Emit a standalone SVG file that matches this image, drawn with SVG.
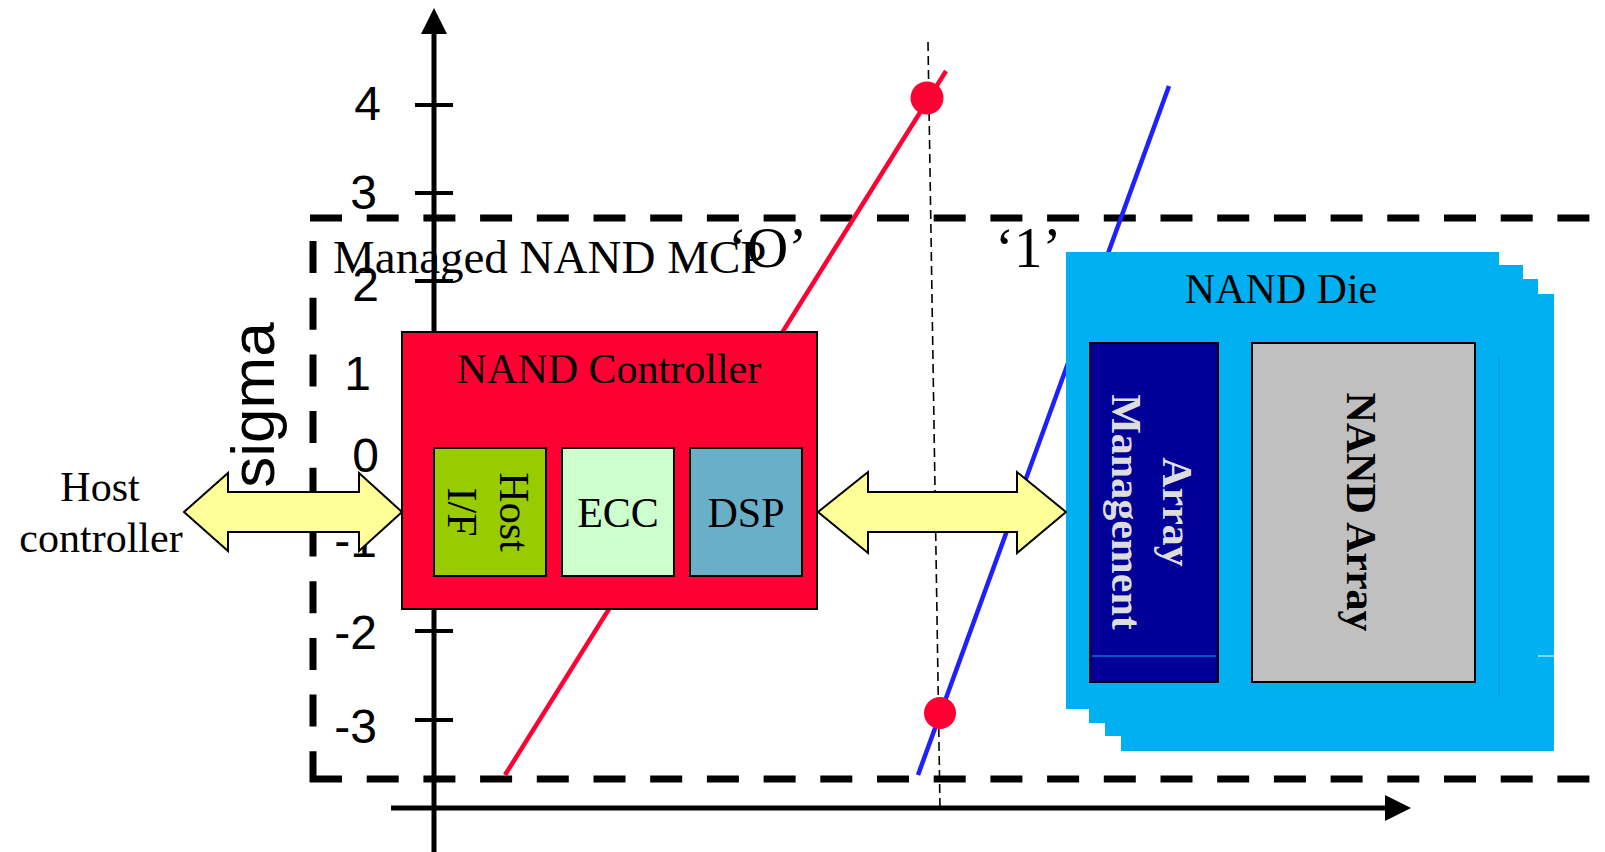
<svg xmlns="http://www.w3.org/2000/svg" width="1605" height="852" viewBox="0 0 1605 852">
<style>
.serif{font-family:"Liberation Serif","Times New Roman",serif;}
.sans{font-family:"Liberation Sans",Arial,sans-serif;}
.tick{font-family:"Liberation Sans",Arial,sans-serif;font-size:48px;text-anchor:end;fill:#000;}
.lbl{font-family:"Liberation Serif","Times New Roman",serif;font-size:42px;fill:#000;}
.mid{text-anchor:middle;}
.box{stroke:#000;stroke-width:2;}
.arrow{fill:#FFFF99;stroke:#000;stroke-width:2;stroke-linejoin:miter;}
.frame{stroke:#000;stroke-width:7;stroke-dasharray:32 24.7;fill:none;}
.die{fill:#00B0F0;}
</style>
<g id="axes">
  <line x1="434" y1="30" x2="434" y2="852" stroke="#000" stroke-width="5"/>
  <polygon points="434,8 421,34 447,34" fill="#000"/>
  <line x1="391" y1="808" x2="1387" y2="808" stroke="#000" stroke-width="5"/>
  <polygon points="1411,808 1385,795 1385,821" fill="#000"/>
  <g stroke="#000" stroke-width="4">
    <line x1="415" y1="105" x2="453" y2="105"/>
    <line x1="415" y1="193" x2="453" y2="193"/>
    <line x1="415" y1="281" x2="453" y2="281"/>
    <line x1="415" y1="368" x2="453" y2="368"/>
    <line x1="415" y1="456" x2="453" y2="456"/>
    <line x1="415" y1="544" x2="453" y2="544"/>
    <line x1="415" y1="631" x2="453" y2="631"/>
    <line x1="415" y1="720" x2="453" y2="720"/>
  </g>
  <text class="tick" x="381" y="120">4</text>
  <text class="tick" x="377" y="209">3</text>
  <text class="tick" x="379" y="301">2</text>
  <text class="tick" x="371" y="390">1</text>
  <text class="tick" x="379" y="472">0</text>
  <text class="tick" x="377" y="557">-1</text>
  <text class="tick" x="377" y="649">-2</text>
  <text class="tick" x="377" y="743">-3</text>
  <text class="sans" font-size="62" text-anchor="middle" transform="translate(274,405) rotate(-90)">sigma</text>
</g>
<g id="frame">
  <line class="frame" x1="310" y1="218" x2="1610" y2="218"/>
  <line class="frame" x1="313" y1="241" x2="313" y2="782"/>
  <line class="frame" x1="310" y1="779" x2="1610" y2="779"/>
  <text class="serif" x="333" y="273" font-size="47">Managed NAND MCP</text>
</g>
<g id="curves">
  <line x1="928" y1="42" x2="940" y2="808" stroke="#000" stroke-width="1.6" stroke-dasharray="9 5"/>
  <line x1="505" y1="775" x2="946" y2="71" stroke="#FF0033" stroke-width="4.5"/>
  <line x1="918" y1="775" x2="1169" y2="86" stroke="#1F1FFF" stroke-width="4.5"/>
  <circle cx="927" cy="98" r="16.5" fill="#FF0033"/>
  <circle cx="940" cy="713" r="16" fill="#FF0033"/>
  <text class="serif" x="728" y="267" font-size="57">‘O’</text>
  <text class="serif" x="995" y="267" font-size="57">‘1’</text>
</g>
<g id="host-controller">
  <text class="lbl mid" x="100" y="501">Host</text>
  <text class="lbl mid" x="101" y="552">controller</text>
</g>
<g id="nand-controller">
  <rect class="box" x="402" y="332" width="415" height="277" fill="#FF0033"/>
  <text class="lbl mid" x="609" y="383">NAND Controller</text>
</g>
<g id="host-if">
  <rect class="box" x="434" y="448" width="112" height="128" fill="#99CC00"/>
  <text class="lbl mid" transform="translate(500,512) rotate(90)">Host</text>
  <text class="lbl mid" transform="translate(448,512) rotate(90)">I/F</text>
</g>
<g id="ecc">
  <rect class="box" x="562" y="448" width="112" height="128" fill="#CCFFCC"/>
  <text class="lbl mid" x="618" y="527">ECC</text>
</g>
<g id="dsp">
  <rect class="box" x="690" y="448" width="112" height="128" fill="#6AAFC8"/>
  <text class="lbl mid" x="746" y="527">DSP</text>
</g>
<g id="nand-die">
  <rect class="die" x="1121" y="294" width="433" height="457"/>
  <rect class="die" x="1105" y="279" width="433" height="457"/>
  <rect class="die" x="1089" y="265" width="434" height="458"/>
  <rect class="die" x="1066" y="252" width="433" height="457"/>
  <line x1="1499" y1="357" x2="1499" y2="696" stroke="#0590C8" stroke-width="1"/>
  <line x1="1538" y1="656" x2="1554" y2="656" stroke="#FFFFFF" stroke-width="1"/>
  <text class="lbl mid" x="1281" y="303">NAND Die</text>
</g>
<g id="array-management">
  <rect class="box" x="1090" y="343" width="128" height="339" fill="#000099"/>
  <line x1="1092" y1="656" x2="1216" y2="656" stroke="#00B0F0" stroke-width="1"/>
  <text class="lbl mid" font-weight="bold" fill="#DDDDDD" style="fill:#DDDDDD" transform="translate(1163,512) rotate(90)">Array</text>
  <text class="lbl mid" font-weight="bold" style="fill:#DDDDDD" transform="translate(1112,512) rotate(90)">Management</text>
</g>
<g id="nand-array">
  <rect class="box" x="1252" y="343" width="223" height="339" fill="#C0C0C0"/>
  <text class="lbl mid" font-weight="bold" transform="translate(1347,512) rotate(90)">NAND Array</text>
</g>
<g id="connectors">
  <polygon class="arrow" points="184,512 228,473 228,492 359,492 359,473 402,512 359,551 359,532 228,532 228,551"/>
  <polygon class="arrow" points="818,512 868,472 868,492 1017,492 1017,472 1066,512 1017,553 1017,532 868,532 868,553"/>
</g>
</svg>
